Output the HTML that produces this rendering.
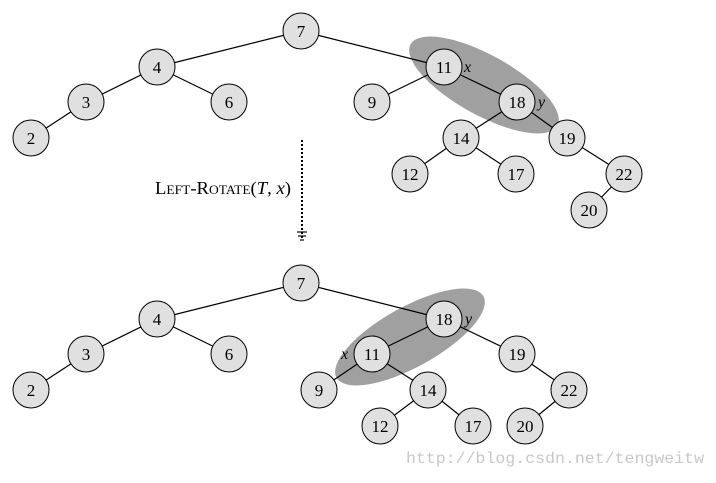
<!DOCTYPE html>
<html><head><style>body{margin:0;background:#fff}</style></head><body>
<svg width="716" height="478" xmlns="http://www.w3.org/2000/svg" font-family="Liberation Serif, serif">
<rect width="716" height="478" fill="#fff"/>
<ellipse cx="484" cy="85" rx="84" ry="30" fill="#a0a0a0" transform="rotate(29 484 85)"/>
<ellipse cx="410" cy="337" rx="84" ry="30" fill="#a0a0a0" transform="rotate(-29 410 337)"/>
<g stroke="#000" stroke-width="1.2">
<line x1="301" y1="31" x2="157" y2="67"/><line x1="301" y1="31" x2="444" y2="67"/>
<line x1="157" y1="67" x2="86" y2="102"/><line x1="157" y1="67" x2="229" y2="102"/>
<line x1="86" y1="102" x2="31" y2="138"/><line x1="444" y1="67" x2="372" y2="102"/>
<line x1="444" y1="67" x2="517" y2="102"/><line x1="517" y1="102" x2="461" y2="138"/>
<line x1="517" y1="102" x2="567" y2="138"/><line x1="461" y1="138" x2="410" y2="174"/>
<line x1="461" y1="138" x2="516" y2="174"/><line x1="567" y1="138" x2="624" y2="174"/>
<line x1="624" y1="174" x2="589" y2="210"/>
<line x1="301" y1="283" x2="157" y2="319"/><line x1="301" y1="283" x2="444" y2="319"/>
<line x1="157" y1="319" x2="86" y2="354"/><line x1="157" y1="319" x2="229" y2="354"/>
<line x1="86" y1="354" x2="31" y2="390"/><line x1="444" y1="319" x2="372" y2="354"/>
<line x1="444" y1="319" x2="517" y2="354"/><line x1="372" y1="354" x2="319" y2="390"/>
<line x1="372" y1="354" x2="428" y2="390"/><line x1="428" y1="390" x2="380" y2="426"/>
<line x1="428" y1="390" x2="473" y2="426"/><line x1="517" y1="354" x2="569" y2="390"/>
<line x1="569" y1="390" x2="525" y2="426"/>
<line x1="302" y1="140" x2="302" y2="240" stroke-dasharray="2 2" stroke-width="2"/>
<line x1="297" y1="232" x2="307" y2="232"/><line x1="298" y1="236" x2="306" y2="236"/><line x1="300" y1="240" x2="304" y2="240"/>
</g>
<g fill="#e0e0e0" stroke="#000" stroke-width="1">
<circle cx="301" cy="31" r="18"/><circle cx="157" cy="67" r="18"/><circle cx="86" cy="102" r="18"/>
<circle cx="229" cy="102" r="18"/><circle cx="31" cy="138" r="18"/><circle cx="372" cy="102" r="18"/>
<circle cx="444" cy="67" r="18"/><circle cx="517" cy="102" r="18"/><circle cx="461" cy="138" r="18"/>
<circle cx="567" cy="138" r="18"/><circle cx="410" cy="174" r="18"/><circle cx="516" cy="174" r="18"/>
<circle cx="624" cy="174" r="18"/><circle cx="589" cy="210" r="18"/>
<circle cx="301" cy="283" r="18"/><circle cx="157" cy="319" r="18"/><circle cx="86" cy="354" r="18"/>
<circle cx="229" cy="354" r="18"/><circle cx="31" cy="390" r="18"/><circle cx="444" cy="319" r="18"/>
<circle cx="372" cy="354" r="18"/><circle cx="517" cy="354" r="18"/><circle cx="319" cy="390" r="18"/>
<circle cx="428" cy="390" r="18"/><circle cx="569" cy="390" r="18"/><circle cx="380" cy="426" r="18"/>
<circle cx="473" cy="426" r="18"/><circle cx="525" cy="426" r="18"/>
</g>
<g font-size="17" text-anchor="middle" fill="#000">
<text x="301" y="37">7</text><text x="157" y="73">4</text><text x="86" y="108">3</text>
<text x="229" y="108">6</text><text x="31" y="144">2</text><text x="372" y="108">9</text>
<text x="444" y="73">11</text><text x="517" y="108">18</text><text x="461" y="144">14</text>
<text x="567" y="144">19</text><text x="410" y="180">12</text><text x="516" y="180">17</text>
<text x="624" y="180">22</text><text x="589" y="216">20</text>
<text x="301" y="289">7</text><text x="157" y="325">4</text><text x="86" y="360">3</text>
<text x="229" y="360">6</text><text x="31" y="396">2</text><text x="444" y="325">18</text>
<text x="372" y="360">11</text><text x="517" y="360">19</text><text x="319" y="396">9</text>
<text x="428" y="396">14</text><text x="569" y="396">22</text><text x="380" y="432">12</text>
<text x="473" y="432">17</text><text x="525" y="432">20</text>
</g>
<g font-size="16" font-style="italic">
<text x="464" y="72">x</text><text x="538" y="107">y</text>
<text x="465" y="324">y</text><text x="341" y="359">x</text>
</g>
<text x="155" y="194" font-size="18" textLength="136" lengthAdjust="spacingAndGlyphs">L<tspan font-size="13">EFT</tspan>-R<tspan font-size="13">OTATE</tspan>(<tspan font-style="italic">T</tspan>, <tspan font-style="italic">x</tspan>)</text>
<text x="406" y="463" font-family="Liberation Mono, monospace" font-size="16" fill="#c8c8c8" textLength="298" lengthAdjust="spacingAndGlyphs">http://blog.csdn.net/tengweitw</text>
</svg>
</body></html>
